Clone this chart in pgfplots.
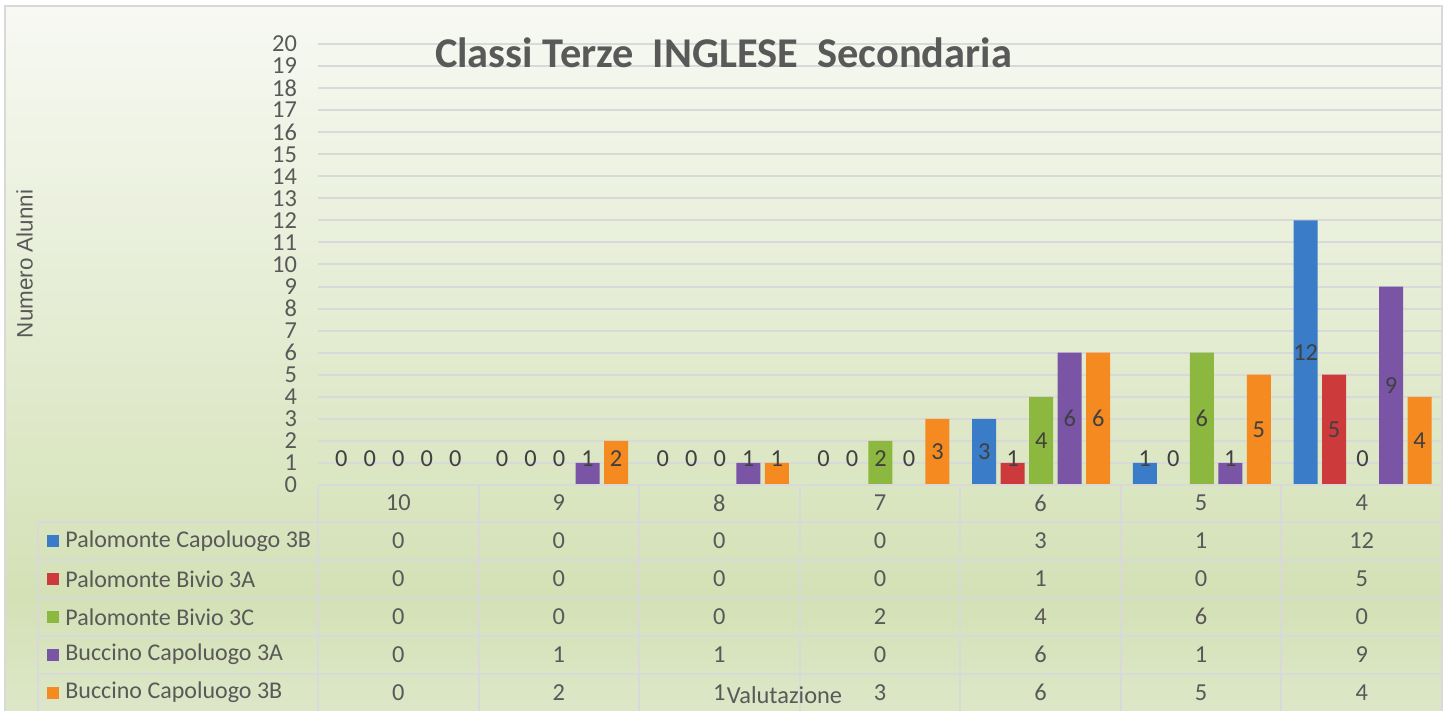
\documentclass[border=0pt]{standalone}
\usepackage{pgfplots}
\pgfplotsset{compat=1.18}
\usepackage{pgfplotstable}
\usepackage{fontspec}
\setmainfont{Carlito}
\newfontfamily\arialfont{Liberation Sans}
\definecolor{txt}{HTML}{595959}
\definecolor{lbl}{HTML}{404040}
\definecolor{gridc}{HTML}{D9D9D9}
\definecolor{cblue}{HTML}{3A7CC8}
\definecolor{cred}{HTML}{CC3A3C}
\definecolor{cgreen}{HTML}{8CB83F}
\definecolor{cpurple}{HTML}{7A54A5}
\definecolor{corange}{HTML}{F48A20}
\definecolor{bgtop}{HTML}{F7F9F3}
\definecolor{bgmid}{HTML}{D4E1B6}
\definecolor{bgbot}{HTML}{DDE7C8}
\pgfdeclareverticalshading{bgshade}{100bp}{color(0bp)=(bgbot); color(25bp)=(bgbot); color(33bp)=(bgmid); color(75bp)=(bgtop); color(100bp)=(bgtop)}
\pgfplotstableread{
x cat PC3B PB3A PB3C BC3A BC3B
0 10 0 0 0 0 0
1 9 0 0 0 1 2
2 8 0 0 0 1 1
3 7 0 0 2 0 3
4 6 3 1 4 6 6
5 5 1 0 6 1 5
6 4 12 5 0 9 4
}\data
\newcommand{\fs}{\fontsize{12.2}{13}\selectfont}
\begin{document}
\begin{tikzpicture}
\useasboundingbox (0,0) rectangle (726.5pt,355.5pt);
\begin{scope}[x=0.5pt,y=-0.5pt,shift={(0pt,355.5pt)}]
\shade[shading=bgshade] (5,6) rectangle (1442,711);
\draw[gridc, line width=1.2pt] (5,713) -- (5,6) -- (1442,6) -- (1442,713);
\node[font=\arialfont\fontsize{11.2}{12}\selectfont, text=txt, rotate=90] at (24.5,264) {Numero Alunni};
\end{scope}
\begin{axis}[
  at={(159pt,113pt)}, anchor=south west, scale only axis,
  width=562.5pt, height=220.5pt,
  xmin=-0.5, xmax=6.5, ymin=0, ymax=20,
  ytick={0,...,20}, xtick=\empty,
  ymajorgrids, grid style={gridc, line width=1pt},
  axis line style={draw=none}, major tick length=0pt,
  yticklabel style={font=\fs, text=txt, xshift=-7pt},
  /pgf/number format/assume math mode=true,
  ybar=2.25pt, bar width=12pt,
  nodes near coords,
  visualization depends on={rawy \as \ry},
  nodes near coords style={font=\fs, text=lbl, anchor=center, yshift={(max(\ry/2,1.2)-\ry)*11.025pt}},
  clip=false,
]
\addplot[fill=cblue, draw=none] table[x=x, y=PC3B]{\data};
\addplot[fill=cred, draw=none] table[x=x, y=PB3A]{\data};
\addplot[fill=cgreen, draw=none] table[x=x, y=PB3C]{\data};
\addplot[fill=cpurple, draw=none] table[x=x, y=BC3A]{\data};
\addplot[fill=corange, draw=none] table[x=x, y=BC3B]{\data};
\end{axis}
\begin{scope}[x=0.5pt,y=-0.5pt,shift={(0pt,355.5pt)}, font=\fs, text=txt]
\node[font=\bfseries\fontsize{21.2}{23}\selectfont, text=txt] at (723.5,53) {Classi Terze\ \ INGLESE\ \ Secondaria};
\draw[gridc, line width=1pt] (318,485) -- (1442,485);
\foreach \yy in {522,560,598,636,674} \draw[gridc, line width=1pt] (38,\yy) -- (1442,\yy);
\draw[gridc, line width=1pt] (38,522) -- (38,711);
\foreach \k in {0,...,7} \draw[gridc, line width=1pt] ({318+160.57*\k},485) -- ({318+160.57*\k},711);
\foreach \s/\cc/\nm [count=\r from 0] in {PC3B/cblue/Palomonte Capoluogo 3B, PB3A/cred/Palomonte Bivio 3A, PB3C/cgreen/Palomonte Bivio 3C, BC3A/cpurple/Buccino Capoluogo 3A, BC3B/corange/Buccino Capoluogo 3B} {
  \fill[\cc] (47,{535+37.9*\r}) rectangle (59,{547+37.9*\r});
  \node[anchor=west, inner sep=0pt, font=\fontsize{12}{13}\selectfont] at (65,{541+37.9*\r}) {\nm};
}
\foreach \c in {0,...,6} {
  \pgfplotstablegetelem{\c}{cat}\of\data
  \node at ({318+160.57*(\c+0.5)},503) {\pgfplotsretval};
  \foreach \s [count=\r from 0] in {PC3B,PB3A,PB3C,BC3A,BC3B} {
    \pgfplotstablegetelem{\c}{\s}\of\data
    \node at ({318+160.57*(\c+0.5)},{541+37.9*\r}) {\pgfplotsretval};
  }
}
\node at (784.5,695) {Valutazione};
\end{scope}
\end{tikzpicture}
\end{document}
